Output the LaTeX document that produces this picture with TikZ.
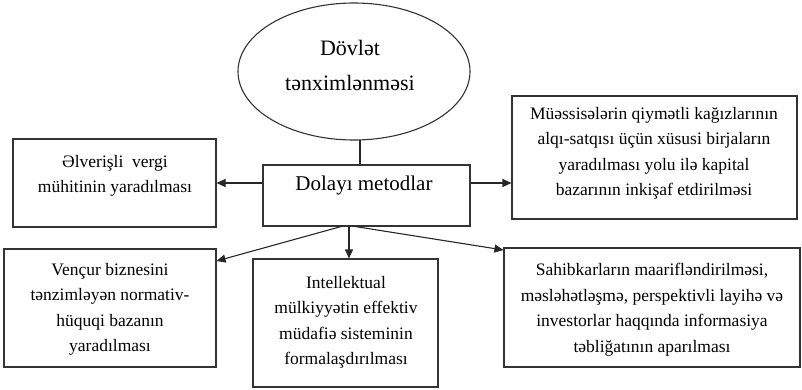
\documentclass[tikz,border=0pt]{standalone}
\usepackage{fontspec}
\setmainfont{Liberation Serif}
\usetikzlibrary{shapes.geometric,arrows.meta}
\begin{document}
\begin{tikzpicture}[x=1pt,y=-1pt,
  box/.style={draw=black!80,line width=1.1pt,rectangle,inner sep=0pt},
  txt/.style={align=center,inner sep=0pt,anchor=north,font=\fontsize{17.5}{25.5}\selectfont},
  arr/.style={draw=black!85,line width=1.1pt,-{Triangle[length=9pt,width=8pt]}},
  ln/.style={draw=black!85,line width=1.1pt}]
\useasboundingbox (0,0) rectangle (802,389);
\node[draw=black!80,line width=1.1pt,ellipse,minimum width=232pt,minimum height=137pt,inner sep=0pt] (st) at (354,71.5) {};
\node[align=center,inner sep=0pt,font=\fontsize{22}{35}\selectfont] (stt) at (350,65) {Dövlət\\tənximlənməsi};
\node[box,minimum width=207pt,minimum height=61pt] (dm) at (366.5,195.5) {};
\node[inner sep=0pt,font=\fontsize{21}{25}\selectfont] (dmt) at (364,185) {Dolayı metodlar};
\node[box,minimum width=203pt,minimum height=88pt] (lv) at (114.5,183) {};
\node[txt] (lvt) at (115,155) {Əlverişli \ vergi\\mühitinin yaradılması};
\node[box,minimum width=285pt,minimum height=123pt] (ms) at (654.5,157.5) {};
\node[txt] (mst) at (654,107) {Müəssisələrin qiymətli kağızlarının\\alqı-satqısı üçün xüsusi birjaların\\yaradılması yolu ilə kapital\\bazarının inkişaf etdirilməsi};
\node[box,minimum width=212pt,minimum height=118pt] (vc) at (110,308) {};
\node[txt] (vct) at (110,263) {Vençur biznesini\\tənzimləyən normativ-\\hüquqi bazanın\\yaradılması};
\node[box,minimum width=185pt,minimum height=128pt] (ie) at (345.5,323) {};
\node[txt] (iet) at (346,276) {Intellektual\\mülkiyyətin effektiv\\müdafiə sisteminin\\formalaşdırılması};
\node[box,minimum width=296pt,minimum height=119pt] (sb) at (652,307.5) {};
\node[txt] (sbt) at (652,263) {Sahibkarların maarifləndirilməsi,\\məsləhətləşmə, perspektivli layihə və\\investorlar haqqında informasiya\\təbliğatının aparılması};
\coordinate (top) at (360,140);
\coordinate (dl) at (343,226);
\coordinate (dr) at (352,226);
\draw[ln] (top) -- (dm.north -| top);
\draw[arr] (dm.west |- 0,183) -- (lv.east |- 0,183);
\draw[arr] (dm.east |- 0,183) -- (ms.west |- 0,183);
\draw[arr] (dl) -- (vc.east |- 0,261);
\draw[arr] (349,226) -- (ie.north -| 349,0);
\draw[arr] (dr) -- (sb.west |- 0,250);
\end{tikzpicture}
\end{document}
